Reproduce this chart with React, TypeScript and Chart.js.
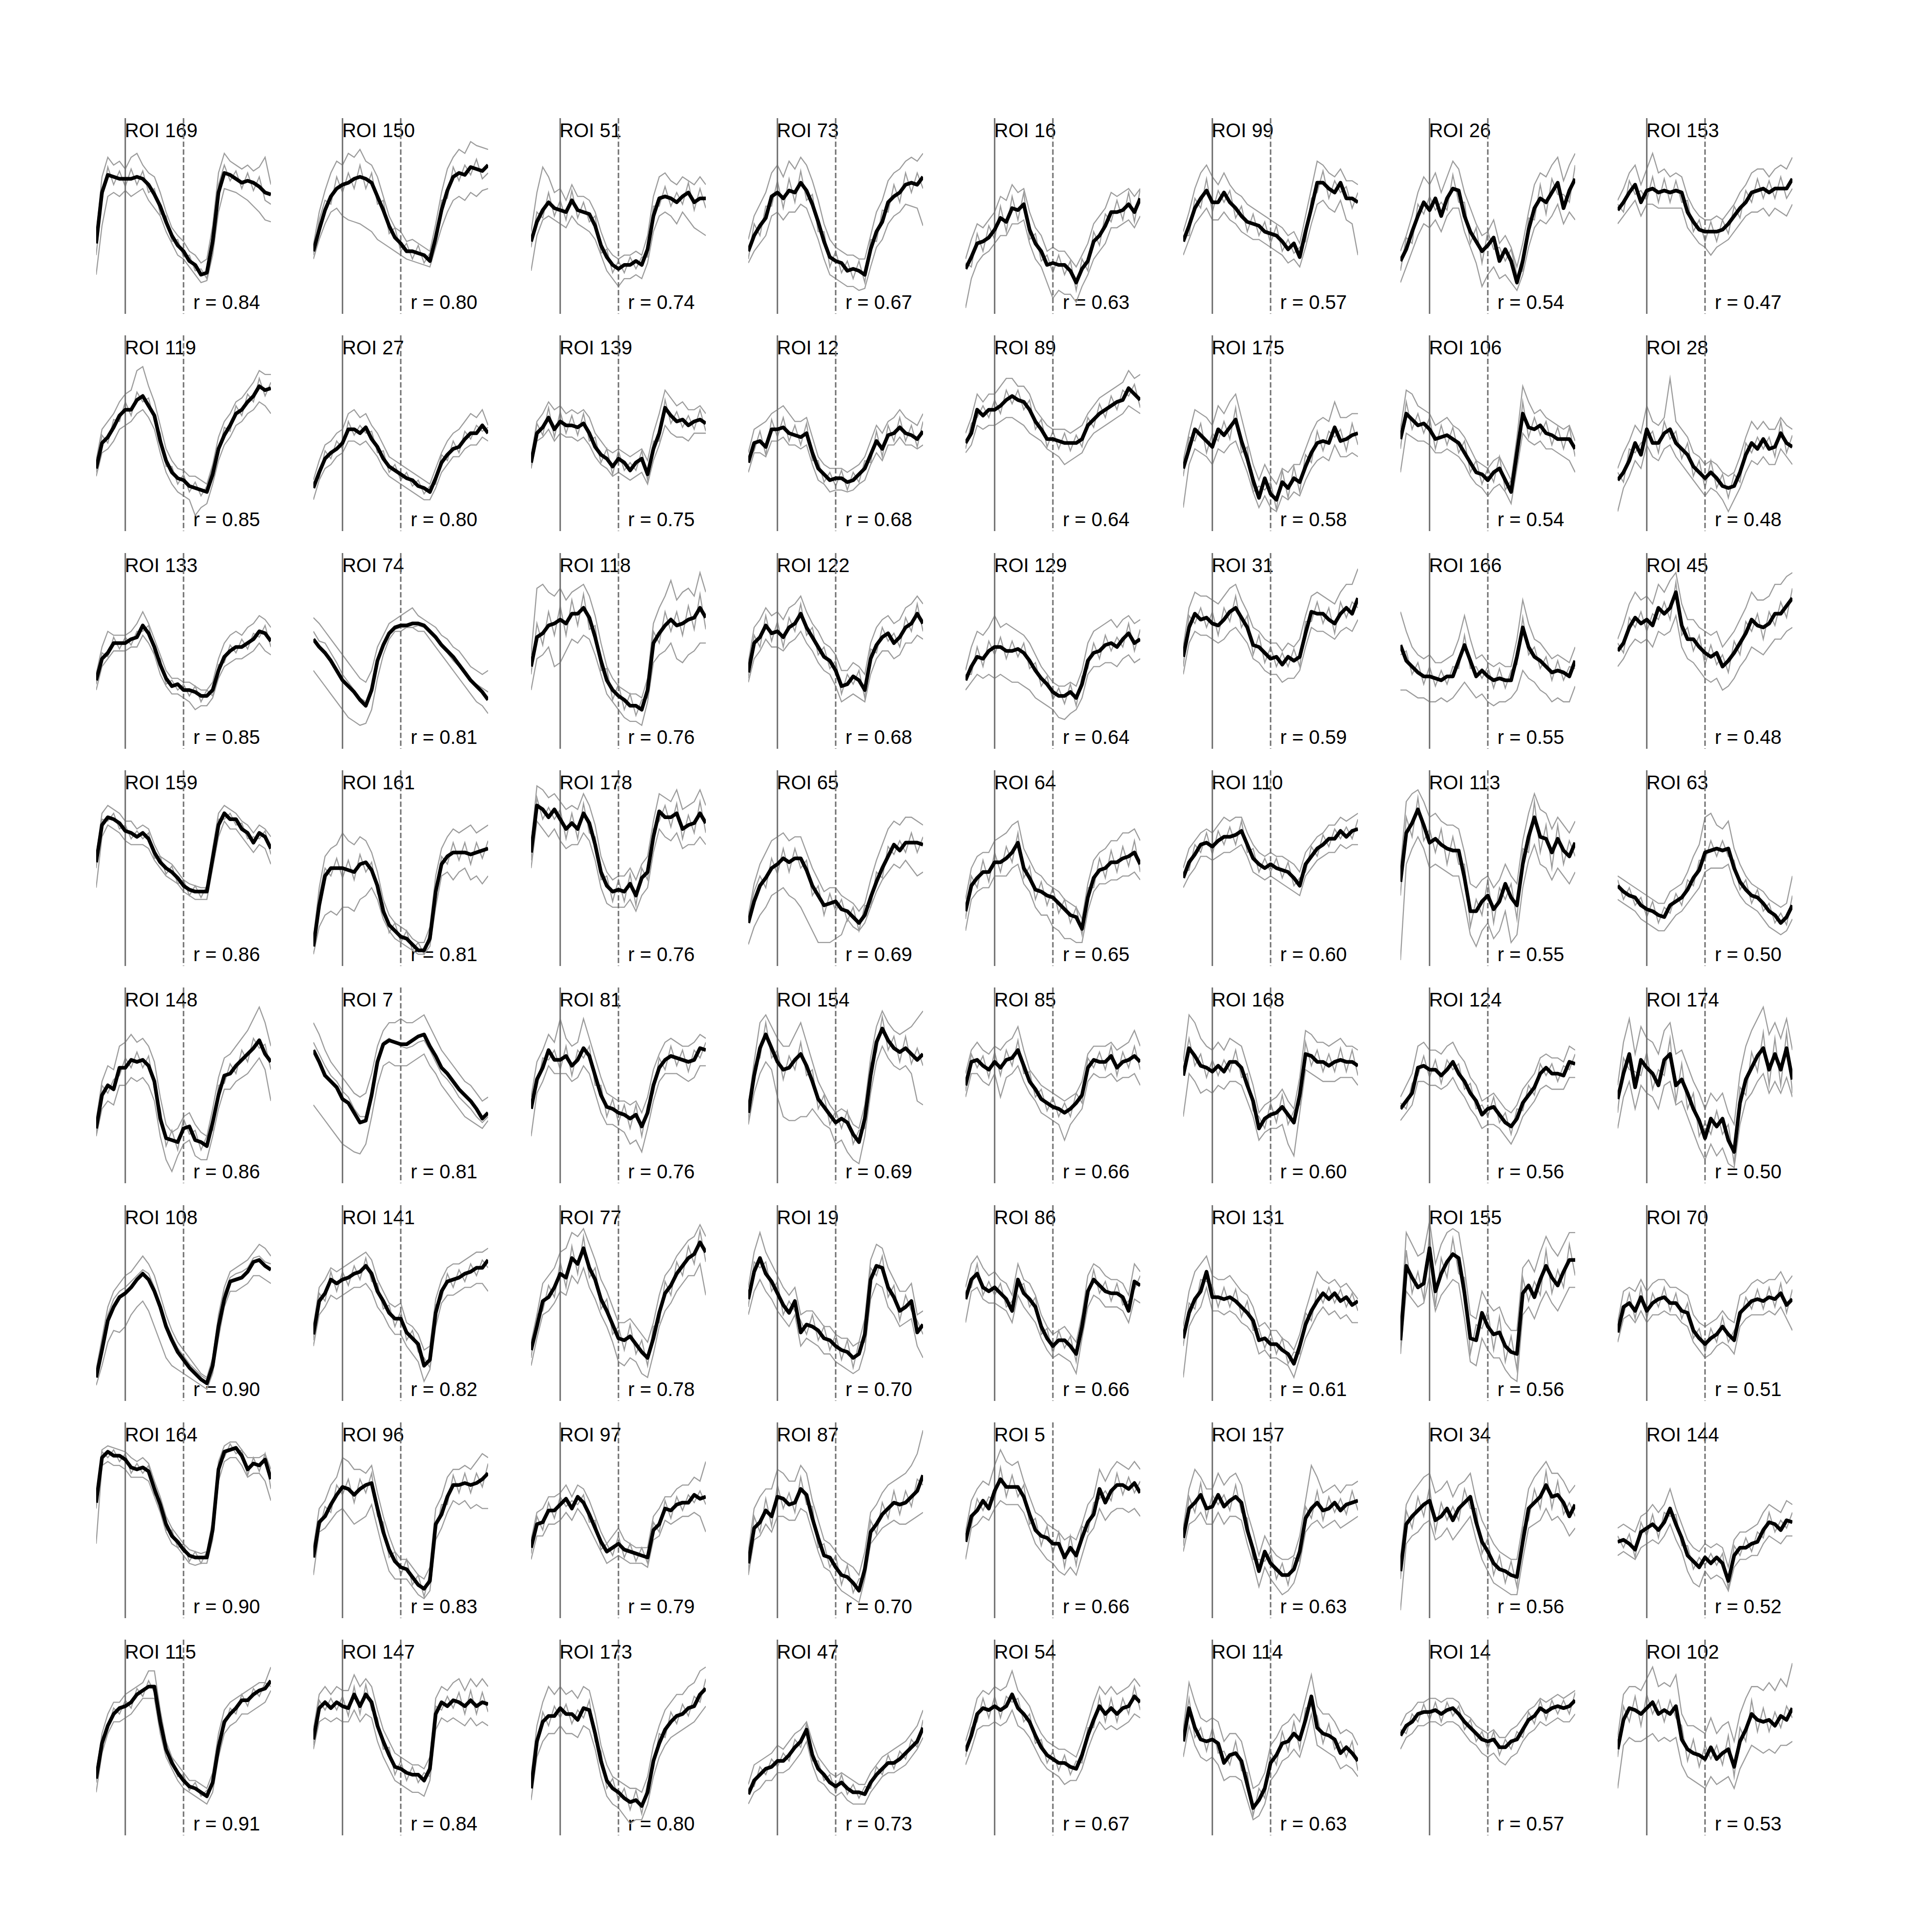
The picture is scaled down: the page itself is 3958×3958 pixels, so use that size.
import React, { useEffect, useRef } from "react";
import { Chart, registerables } from "chart.js";

Chart.register(...registerables);

// time axis (s), stimulus onset at 0, offset at 2
const TIME = [-1, -0.8, -0.6, -0.4, -0.2, 0, 0.2, 0.4, 0.6, 0.8, 1, 1.2, 1.4, 1.6, 1.8, 2, 2.2, 2.4, 2.6, 2.8, 3, 3.2, 3.4, 3.6, 3.8, 4, 4.2, 4.4, 4.6, 4.8, 5];
const STIM_ON = 0;
const STIM_OFF = 2;

// ---- row 1 ----
const roi169Mean = [36,62,71,70,69,69,69,70,69,66,61,55,47,40,35,32,27,25,20,21,37,62,72,71,69,67,68,67,65,62,61];
const roi169Hi = [40,70,80,76,78,74,80,82,76,72,70,62,52,44,40,37,32,30,26,28,45,72,82,78,76,74,76,73,75,80,66];
const roi169Lo = [20,45,60,62,60,63,60,62,64,58,54,50,42,36,30,28,24,20,16,17,30,52,64,63,62,60,58,55,52,48,47];
const roi169Mid = [30,58,75,66,73,65,74,66,73,62,64,51,50,37,38,29,30,22,23,18,42,66,76,68,73,64,72,63,70,58,56];
const roi150Mean = [32,43,53,60,64,66,67,69,70,69,67,60,53,45,39,36,32,32,31,30,27,39,53,63,70,72,71,75,74,73,76];
const roi150Hi = [35,52,63,72,78,76,82,80,84,78,76,70,60,50,44,42,37,38,36,34,32,46,62,74,80,84,82,88,86,85,84];
const roi150Lo = [28,38,46,52,54,50,48,47,46,44,42,38,36,34,32,30,28,27,26,25,24,34,44,52,58,60,58,62,60,63,64];
const roi150Mid = [30,48,58,56,70,62,72,64,76,64,72,56,58,41,44,32,36,28,35,26,31,35,58,59,75,68,76,71,79,69,72];
const roi51Mean = [37,47,53,57,54,53,52,58,53,52,51,45,35,29,25,23,25,25,27,25,33,50,59,60,59,57,60,62,57,59,59];
const roi51Hi = [42,62,75,70,62,64,58,66,60,60,58,52,42,34,30,28,30,30,32,30,40,60,70,72,68,66,70,68,66,70,66];
const roi51Lo = [22,40,48,50,48,46,44,50,46,44,42,38,30,22,18,14,18,18,20,18,26,42,50,52,50,46,52,48,44,42,40];
const roi51Mid = [34,52,49,62,50,58,48,63,49,57,47,50,31,33,21,27,21,29,23,29,29,55,55,65,55,62,56,67,53,64,54];
const roi73Mean = [32,40,45,49,60,62,59,63,62,67,63,56,47,37,29,27,26,22,23,22,20,33,42,47,57,60,62,66,67,66,70];
const roi73Hi = [38,50,56,62,72,76,70,78,74,80,76,68,58,46,38,34,32,30,30,28,28,40,52,58,68,72,74,78,80,78,82];
const roi73Lo = [26,32,36,40,50,52,48,52,52,56,54,46,38,28,20,18,16,14,14,12,13,24,34,38,46,50,52,56,55,54,45];
const roi73Mid = [28,46,40,55,55,68,54,69,57,73,58,61,42,42,24,32,21,27,18,27,16,38,37,53,52,66,57,72,62,72,64];
const roi16Mean = [23,29,36,37,39,43,49,47,54,53,56,43,36,32,25,26,25,25,22,16,23,27,37,40,45,52,52,53,56,52,59];
const roi16Hi = [28,38,46,44,48,52,60,58,66,62,64,52,44,40,32,34,32,32,28,24,30,36,46,50,54,62,60,62,64,60,64];
const roi16Lo = [3,18,26,30,32,36,40,40,46,46,48,36,28,24,16,8,12,10,10,6,14,20,28,32,36,44,44,46,48,44,50];
const roi16Mid = [26,24,41,32,45,38,55,42,60,48,62,38,41,27,30,21,30,20,27,12,28,22,42,35,51,47,58,48,62,47,64];
const roi99Mean = [37,45,54,59,63,57,57,62,57,54,50,47,46,45,42,41,40,37,33,36,29,42,54,67,67,64,62,67,59,59,57];
const roi99Hi = [42,52,64,72,76,70,66,72,66,62,60,56,54,52,50,48,46,44,40,42,36,50,64,78,76,72,70,74,68,68,66];
const roi99Lo = [30,38,46,50,54,48,48,52,48,46,42,40,38,38,36,34,32,30,26,28,24,34,46,56,58,54,52,58,48,46,30];
const roi99Mid = [40,40,59,54,69,52,63,57,63,49,55,42,51,40,47,36,45,32,38,31,34,37,59,62,73,59,68,62,65,54,62];
const roi26Mean = [27,33,42,50,57,53,59,50,59,64,63,50,42,37,32,35,39,27,33,27,16,27,43,54,59,57,62,67,54,63,69];
const roi26Hi = [32,40,50,62,70,66,72,62,70,78,74,62,54,46,40,42,48,36,40,34,24,36,52,66,72,70,76,80,68,76,82];
const roi26Lo = [16,24,32,40,46,44,48,42,50,54,54,42,34,26,14,20,24,18,20,16,12,20,34,44,48,46,50,56,46,52,48];
const roi26Mid = [22,39,36,56,51,60,53,57,53,71,57,57,36,44,26,42,33,34,27,33,20,22,49,48,66,51,69,61,61,57,76];
const roi153Mean = [53,57,62,66,57,63,64,62,63,62,63,62,52,47,43,42,42,42,43,46,50,54,57,62,63,64,62,64,64,64,69];
const roi153Hi = [58,64,72,76,66,74,82,72,74,70,72,70,60,54,50,48,48,50,48,52,56,62,66,72,74,74,70,74,76,74,80];
const roi153Lo = [46,50,54,58,50,56,56,54,54,54,54,54,44,40,36,34,30,34,36,38,42,46,50,52,52,54,50,54,52,50,56];
const roi153Mid = [56,52,68,61,63,58,70,57,69,57,68,57,58,42,48,37,47,37,48,41,55,49,63,57,69,59,68,59,70,59,64];

// ---- row 2 ----
const roi119Mean = [32,45,48,53,59,62,62,67,69,64,59,46,36,30,27,26,23,22,21,20,29,42,49,54,60,62,66,69,74,72,73];
const roi119Hi = [36,52,56,60,66,70,72,82,84,74,66,54,42,36,32,31,28,28,26,24,34,48,56,60,66,68,72,76,82,80,80];
const roi119Lo = [28,40,42,46,52,54,56,60,62,58,52,40,30,24,20,18,16,8,12,14,24,36,44,48,54,56,60,62,66,64,60];
const roi119Mid = [30,49,45,57,56,66,59,71,66,68,56,50,33,33,24,29,20,25,18,23,33,39,53,51,64,59,70,66,78,69,76];
const roi27Mean = [22,30,37,40,42,45,52,52,50,53,47,43,37,33,31,29,27,26,23,22,20,27,35,39,42,43,47,50,50,54,50];
const roi27Hi = [26,36,44,46,50,52,60,62,58,60,54,50,44,38,36,34,32,30,28,26,24,32,40,46,50,52,56,60,58,62,54];
const roi27Lo = [16,26,32,34,38,40,46,46,44,46,42,38,32,28,26,24,22,20,18,16,16,22,30,34,38,38,42,44,44,48,46];
const roi27Mid = [25,27,41,37,46,42,56,49,54,50,51,40,41,30,34,26,30,23,26,19,23,24,39,36,46,40,51,47,54,51,53];
const roi139Mean = [35,50,53,58,52,56,54,54,53,55,50,43,39,37,33,37,35,31,35,37,29,42,50,63,59,56,57,54,56,57,55];
const roi139Hi = [38,56,60,66,62,64,60,62,60,62,58,50,46,42,40,42,40,38,40,42,36,50,60,72,68,64,66,62,62,64,60];
const roi139Lo = [32,46,48,52,46,50,48,48,46,48,44,38,34,32,28,30,28,26,28,30,24,36,44,54,50,48,48,46,50,50,50];
const roi139Mid = [32,55,49,63,48,61,50,59,49,60,46,48,35,42,29,41,31,35,31,41,26,46,46,67,55,61,53,59,52,62,51];
const roi12Mean = [35,45,46,43,52,52,53,50,49,48,50,40,32,29,26,27,27,25,26,29,32,39,46,42,49,50,53,50,49,47,51];
const roi12Hi = [40,52,54,56,60,62,64,60,56,56,58,48,38,34,32,32,32,30,32,34,38,46,54,50,56,58,62,58,56,54,60];
const roi12Lo = [30,40,40,38,46,46,48,44,44,42,44,34,26,24,20,21,21,20,21,24,26,34,40,36,44,44,48,44,44,42,44];
const roi12Mid = [38,41,51,39,57,48,58,46,54,44,55,36,36,25,30,23,31,21,30,25,36,35,51,38,54,46,58,46,54,43,56];
const roi89Mean = [45,50,62,59,62,62,64,67,69,67,66,62,56,52,47,47,46,45,45,45,47,54,57,60,62,64,66,67,73,70,67];
const roi89Hi = [50,58,70,66,70,70,74,78,78,74,74,70,62,58,54,52,52,52,50,52,54,60,64,68,70,72,74,76,82,78,80];
const roi89Lo = [40,44,54,52,54,54,56,58,58,56,54,50,48,46,42,40,38,34,36,38,40,46,50,52,54,56,58,60,64,62,60];
const roi89Mid = [42,55,58,64,58,67,60,72,65,72,62,67,52,57,43,51,42,50,41,49,43,58,53,65,58,69,62,72,69,75,63];
const roi175Mean = [32,42,52,49,46,43,52,49,53,57,46,37,26,17,27,19,16,25,22,27,25,33,40,45,46,45,53,46,47,49,50];
const roi175Hi = [36,50,62,60,58,54,64,60,66,70,58,46,34,26,34,28,24,32,30,34,34,42,50,56,58,56,66,58,58,60,60];
const roi175Lo = [12,34,42,40,38,34,42,40,44,46,38,30,20,12,18,12,10,18,16,20,18,26,32,36,38,36,44,38,38,40,38];
const roi175Mid = [28,48,46,55,40,50,46,56,47,63,40,43,20,23,21,25,11,31,17,33,20,39,35,51,41,51,48,52,41,55,44];
const roi106Mean = [47,60,57,54,55,52,47,48,49,47,45,40,35,30,29,26,30,32,26,20,40,60,53,52,54,50,49,47,47,47,42];
const roi106Hi = [52,72,70,64,62,60,54,56,58,54,52,48,42,36,34,32,36,38,32,26,48,74,66,60,62,58,56,54,52,54,46];
const roi106Lo = [30,50,48,46,46,44,40,40,42,40,38,34,28,24,22,18,22,24,20,14,32,50,46,44,46,42,42,40,38,36,30];
const roi106Mid = [42,66,52,60,50,58,42,54,44,53,40,46,30,36,24,32,25,38,21,26,35,66,48,58,49,56,44,53,42,53,38];
const roi28Mean = [26,30,36,45,39,52,45,45,50,52,45,42,39,33,30,27,30,27,23,22,23,30,39,45,42,47,42,43,50,45,43];
const roi28Hi = [32,40,46,54,50,64,56,54,58,78,56,52,48,40,38,34,36,34,30,28,30,38,48,56,52,56,52,52,58,54,52];
const roi28Lo = [10,22,28,36,32,44,38,36,42,44,38,34,30,26,22,18,22,20,16,10,16,22,30,36,34,38,34,34,42,38,34];
const roi28Mid = [30,25,42,40,45,47,51,40,56,47,51,37,45,28,36,22,36,22,29,17,29,25,45,40,48,42,48,38,56,40,49];

// ---- row 3 ----
const roi133Mean = [35,46,49,54,54,54,56,57,63,59,52,43,36,32,33,30,30,29,27,27,30,40,47,50,52,52,54,56,60,59,55];
const roi133Hi = [38,52,60,58,58,58,60,64,70,64,56,48,40,36,36,34,34,32,30,30,34,46,54,58,60,58,62,64,68,66,62];
const roi133Lo = [30,42,46,50,50,50,52,52,58,54,48,38,32,28,28,26,24,20,22,22,26,36,42,44,46,46,48,50,54,50,48];
const roi133Mid = [33,49,47,57,51,57,53,60,60,63,49,46,33,35,30,33,27,32,24,30,27,43,44,53,49,56,51,59,57,63,52];
const roi74Mean = [56,52,49,45,40,35,32,29,25,22,30,45,53,59,62,63,63,64,64,63,60,57,53,50,47,43,39,35,32,29,25];
const roi74Hi = [67,64,60,56,52,48,44,40,36,34,40,52,58,64,66,68,70,72,68,66,64,62,58,56,52,50,46,42,40,38,40];
const roi74Lo = [40,36,32,28,24,20,16,14,12,13,20,36,48,56,60,60,62,62,60,60,56,52,48,44,40,36,32,28,24,22,18];
const roi74Mid = [60,55,54,49,44,38,34,30,26,24,32,44,52,58,61,62,62,62,63,62,59,56,52,49,45,42,38,35,33,31,29];
const roi118Mean = [42,57,59,63,64,66,64,69,69,72,67,57,45,35,30,27,25,22,22,20,30,54,59,63,66,63,64,66,67,72,67];
const roi118Hi = [48,82,84,80,78,82,76,80,82,84,78,68,54,42,36,32,30,28,28,26,36,64,72,78,86,76,80,82,78,90,80];
const roi118Lo = [30,46,48,52,42,44,50,56,54,58,56,48,38,28,24,20,16,14,14,12,24,44,48,50,54,46,44,48,50,54,54];
const roi118Mid = [38,64,53,70,58,73,58,76,63,79,61,63,40,41,25,33,20,28,17,25,26,60,54,70,60,70,58,73,61,79,61];
const roi122Mean = [39,54,57,63,59,60,57,62,64,69,62,57,52,47,45,40,32,33,37,35,30,46,53,57,59,54,57,62,64,69,64];
const roi122Hi = [44,62,66,72,68,70,66,72,74,78,70,64,60,54,52,48,40,40,44,42,38,54,62,66,68,64,66,72,74,78,74];
const roi122Lo = [34,46,50,56,52,52,50,54,56,60,54,50,44,40,38,32,24,26,28,26,24,38,46,50,50,46,48,54,54,58,56];
const roi122Mid = [36,58,52,68,55,65,52,67,60,74,58,62,48,52,41,45,28,38,33,40,26,51,49,62,55,59,52,67,60,74,60];
const roi129Mean = [35,42,47,46,50,52,52,50,50,51,49,45,40,36,33,29,27,27,29,26,33,45,49,50,53,54,52,56,59,54,56];
const roi129Hi = [40,52,60,58,62,68,62,64,62,60,58,54,48,42,38,34,32,32,34,32,40,54,60,62,64,66,62,66,68,64,66];
const roi129Lo = [30,34,38,36,38,36,38,36,34,34,32,30,26,24,22,20,16,15,18,20,26,38,42,42,44,44,42,46,48,44,46];
const roi129Mid = [38,38,52,42,55,48,57,46,55,47,54,41,44,32,37,25,31,23,33,22,37,41,54,46,58,50,57,52,64,50,61];
const roi31Mean = [47,62,69,66,67,64,63,66,70,72,67,62,53,52,49,46,47,43,47,45,47,59,70,69,69,66,64,69,72,69,77];
const roi31Hi = [52,72,80,78,78,76,74,78,82,84,76,70,62,60,56,54,54,50,54,52,56,68,78,80,78,76,74,80,84,84,92];
const roi31Lo = [38,54,60,58,58,56,54,56,60,62,58,54,46,44,40,38,38,34,36,36,40,52,62,60,60,58,56,60,62,60,66];
const roi31Mid = [42,68,64,72,62,70,58,72,65,78,62,68,48,58,44,52,42,49,42,51,42,65,65,75,64,72,59,75,67,75,72];
const roi166Mean = [53,45,42,39,37,37,36,35,37,37,45,53,45,37,40,37,35,36,35,35,47,62,52,47,45,42,39,40,39,37,45];
const roi166Hi = [70,60,52,48,46,48,44,44,46,48,56,68,56,46,48,44,42,44,42,42,56,76,64,56,54,50,46,48,46,44,52];
const roi166Lo = [30,30,28,26,26,24,24,26,24,26,30,34,30,26,28,24,22,24,24,26,30,40,36,34,30,28,24,26,24,24,32];
const roi166Mid = [48,50,38,44,33,42,32,40,33,42,41,58,41,42,36,42,31,41,31,40,43,67,48,52,41,47,35,45,35,42,41];
const roi45Mean = [50,54,62,67,64,66,63,72,69,72,80,63,56,56,52,49,47,49,42,45,49,54,59,66,63,62,64,69,69,73,77];
const roi45Hi = [56,64,74,80,76,78,74,84,80,86,90,74,66,66,62,60,58,60,52,56,60,66,72,80,76,76,78,84,84,88,90];
const roi45Lo = [42,46,52,56,54,56,52,60,58,60,68,52,46,44,40,36,34,36,30,32,36,42,46,52,50,48,52,56,56,60,62];
const roi45Mid = [54,49,67,62,70,60,69,66,75,66,85,58,62,50,58,43,53,43,48,39,55,48,65,60,69,56,70,63,75,67,82];

// ---- row 4 ----
const roi159Mean = [53,72,76,75,73,69,68,66,68,65,58,53,50,48,45,41,39,38,38,38,55,72,78,75,75,70,68,63,68,66,60];
const roi159Hi = [56,78,82,80,78,74,74,70,72,70,62,56,54,52,48,44,42,41,40,40,60,78,82,80,78,74,72,68,72,70,66];
const roi159Lo = [40,66,72,70,68,64,62,62,62,60,54,50,46,44,42,38,36,34,34,34,50,66,74,70,70,66,62,58,62,60,52];
const roi159Mid = [50,75,74,78,70,72,65,69,65,68,55,56,47,51,42,44,36,41,35,41,52,75,75,78,72,73,65,66,65,69,57];
const roi161Mean = [10,31,46,50,50,50,49,48,52,53,49,41,28,21,18,15,14,11,8,8,14,38,52,56,58,58,58,57,58,59,60];
const roi161Hi = [14,40,56,60,62,68,64,62,66,64,58,48,34,26,22,20,18,14,12,12,20,46,60,66,70,68,70,72,68,70,72];
const roi161Lo = [6,20,26,28,26,30,30,28,34,36,40,34,24,18,14,12,10,8,6,6,10,30,46,48,44,48,50,44,46,42,46];
const roi161Mid = [12,36,50,46,55,45,54,44,57,48,53,37,32,17,22,12,18,8,12,6,18,34,56,52,63,54,63,52,63,55,64];
const roi178Mean = [58,82,80,76,80,75,70,73,70,78,73,62,48,41,38,39,38,42,36,45,48,66,79,76,76,78,70,72,73,78,73];
const roi178Hi = [62,92,90,86,88,84,80,82,80,88,82,72,56,48,44,46,46,50,44,52,56,74,88,86,84,90,80,82,84,90,82];
const roi178Lo = [50,74,70,66,70,64,60,62,62,68,64,54,40,32,30,30,30,34,28,36,40,58,70,66,64,68,60,62,62,66,62];
const roi178Mid = [54,86,75,81,75,80,65,78,65,83,68,66,44,46,33,44,33,47,31,50,44,70,74,82,71,83,65,77,68,84,68];
const roi65Mean = [22,33,41,45,50,52,55,53,55,55,49,41,36,31,32,33,29,28,25,22,26,35,43,50,56,62,59,63,63,63,62];
const roi65Hi = [26,42,52,58,64,66,68,64,66,66,58,50,44,38,40,40,36,34,32,28,32,44,54,62,70,74,72,76,76,74,72];
const roi65Lo = [11,20,26,30,36,38,40,36,34,30,24,18,12,12,12,14,16,24,20,18,22,30,38,44,48,52,50,54,50,46,48];
const roi65Mid = [26,38,46,40,55,47,60,48,60,50,54,36,41,26,37,28,34,23,30,18,31,30,48,45,61,57,64,58,68,58,66];
const roi64Mean = [28,41,45,48,48,53,53,55,58,63,50,45,39,38,36,35,32,29,26,25,19,35,45,49,50,53,53,55,56,58,52];
const roi64Hi = [34,50,56,58,58,64,66,68,72,74,60,54,48,46,42,40,38,34,32,30,24,42,54,58,60,64,64,68,68,70,64];
const roi64Lo = [18,34,38,40,40,46,46,46,50,52,42,38,30,26,26,20,18,14,14,12,12,28,38,42,42,44,44,46,46,48,44];
const roi64Mid = [24,46,40,54,43,58,48,61,53,68,45,51,34,43,31,40,27,34,22,30,16,40,40,55,45,59,48,61,51,64,48];
const roi110Mean = [45,53,57,62,63,61,64,66,66,67,69,62,55,52,50,52,50,49,48,45,41,52,56,60,62,65,65,69,66,69,70];
const roi110Hi = [50,60,64,68,70,68,72,76,74,76,76,68,62,58,56,58,56,56,54,52,48,58,62,66,68,72,72,76,74,76,78];
const roi110Lo = [40,46,50,56,56,54,56,58,58,60,62,56,48,46,44,46,44,42,40,38,36,46,50,54,56,58,58,62,60,62,62];
const roi110Mid = [48,49,62,58,68,57,69,62,71,62,74,58,60,48,55,48,55,45,53,41,45,48,61,56,67,61,70,65,71,65,75];
const roi113Mean = [43,68,73,80,72,63,65,62,60,59,59,45,28,28,33,36,29,33,42,35,31,52,66,76,66,65,58,65,59,56,63];
const roi113Hi = [50,84,88,90,84,76,78,74,72,72,70,58,42,40,44,46,40,44,52,46,42,64,78,88,80,78,70,76,72,68,74];
const roi113Lo = [3,52,60,66,60,50,52,50,48,46,46,32,16,10,18,22,14,18,28,12,16,40,54,62,52,50,44,50,46,42,48];
const roi113Mid = [36,76,66,86,64,70,58,70,52,66,52,52,20,34,26,44,22,40,34,42,24,60,58,84,58,72,50,72,52,64,56];
const roi63Mean = [41,38,36,35,31,29,28,26,25,31,33,35,39,45,49,58,59,60,59,60,50,43,39,36,35,32,28,26,22,25,31];
const roi63Hi = [46,44,42,40,38,36,34,32,32,38,40,42,48,56,62,76,78,72,70,74,60,52,46,42,40,38,34,32,30,32,46];
const roi63Lo = [34,32,30,28,24,22,20,18,18,22,26,28,32,36,40,48,50,50,50,52,42,36,32,30,28,24,20,18,16,18,24];
const roi63Mid = [44,34,40,31,35,25,33,22,30,27,37,31,44,41,54,54,64,56,64,56,54,39,44,32,39,28,32,22,27,21,36];

// ---- row 5 ----
const roi148Mean = [28,45,50,48,59,59,63,62,63,60,52,33,23,22,21,28,29,22,21,19,31,45,55,56,60,63,66,69,73,66,62];
const roi148Hi = [32,52,60,58,70,72,76,72,74,70,62,44,30,26,28,34,36,30,26,24,38,54,64,66,70,74,78,84,90,82,70];
const roi148Lo = [24,38,42,40,50,50,54,52,54,50,42,24,12,6,14,20,22,14,12,12,24,38,48,48,52,54,56,60,64,58,42];
const roi148Mid = [25,50,46,53,55,64,59,67,59,65,48,38,19,27,17,33,25,27,17,24,27,50,51,61,56,68,62,74,69,71,58];
const roi7Mean = [68,62,55,52,49,43,41,36,31,32,45,62,71,73,72,71,71,73,75,76,70,65,59,56,52,48,45,42,38,33,36];
const roi7Hi = [82,76,68,62,58,54,50,46,44,46,56,70,78,82,82,84,82,82,84,86,80,74,68,64,60,56,52,50,46,42,44];
const roi7Lo = [40,36,32,28,24,20,18,16,15,20,34,50,60,62,60,60,60,62,64,66,60,56,50,46,42,38,34,32,30,28,32];
const roi7Mid = [72,66,60,55,52,47,44,38,34,34,48,64,72,74,72,70,69,70,72,73,68,62,56,53,49,44,41,38,34,31,34];
const roi81Mean = [38,53,59,68,63,63,65,60,63,69,65,55,45,39,38,36,35,33,35,29,36,50,59,63,65,64,63,62,63,69,68];
const roi81Hi = [44,62,68,76,72,84,74,70,72,84,74,64,54,46,44,42,42,40,42,36,44,58,66,72,74,72,70,70,72,76,74];
const roi81Lo = [24,46,52,60,56,56,56,52,54,60,56,46,36,30,30,28,26,20,22,16,28,42,52,56,56,56,54,52,54,60,60];
const roi81Mid = [42,49,64,63,68,58,70,55,68,64,70,50,50,34,43,31,40,28,40,24,40,46,64,58,70,60,68,57,68,64,72];
const roi154Mean = [36,55,69,76,69,62,58,59,63,66,60,52,43,39,35,31,33,31,25,21,33,55,72,79,73,69,67,69,66,63,66];
const roi154Hi = [40,62,82,86,80,74,70,70,76,82,72,62,52,46,40,36,38,36,30,28,40,64,80,88,82,78,76,78,80,84,88];
const roi154Lo = [30,46,56,62,58,44,34,32,32,34,34,38,34,30,28,20,22,16,12,10,24,46,62,70,64,60,58,60,56,42,40];
const roi154Mid = [32,60,64,82,64,68,53,65,58,72,55,58,38,45,30,37,28,37,20,27,28,61,67,85,68,75,62,75,61,69,60];
const roi85Mean = [50,62,63,60,58,62,59,63,64,68,60,52,48,43,41,39,38,36,38,41,45,59,63,62,62,65,59,62,63,65,62];
const roi85Hi = [56,68,72,68,66,70,68,72,74,80,68,58,54,50,48,46,44,42,44,46,52,66,70,70,70,72,68,70,72,78,70];
const roi85Lo = [44,56,56,52,50,56,44,54,56,60,52,46,42,36,34,32,30,22,30,34,38,52,56,54,54,56,52,54,54,56,50];
const roi85Mid = [47,66,59,65,54,67,55,68,60,73,56,57,44,48,37,44,34,41,34,46,41,64,59,67,58,70,55,67,59,70,58];
const roi168Mean = [55,69,65,60,59,57,60,57,62,62,59,50,42,28,33,35,36,39,35,31,45,66,65,62,62,60,62,63,62,62,60];
const roi168Hi = [62,86,82,74,70,68,72,68,74,72,70,60,50,36,40,42,44,48,42,38,54,78,76,72,72,70,72,74,70,70,68];
const roi168Lo = [34,56,52,46,48,46,50,48,52,52,50,42,34,22,26,28,28,30,20,14,36,58,56,54,52,52,52,54,54,54,50];
const roi168Mid = [58,74,60,66,54,63,55,63,57,68,54,56,37,34,28,41,31,45,30,37,40,72,60,68,57,66,57,69,57,68,55];
const roi124Mean = [38,42,46,59,60,58,58,55,58,62,56,52,46,42,35,38,39,35,31,29,33,41,45,49,56,59,56,56,55,62,61];
const roi124Hi = [44,50,56,70,72,68,68,66,70,72,66,62,54,50,42,44,46,42,38,36,40,48,52,56,64,66,64,64,62,70,68];
const roi124Lo = [32,36,40,52,52,50,50,48,50,54,48,44,38,34,28,30,30,28,24,20,26,34,38,42,48,50,48,48,48,54,54];
const roi124Mid = [41,38,51,55,65,54,63,51,63,58,61,48,51,38,40,34,44,31,36,25,38,37,50,45,61,55,61,52,60,58,66];
const roi174Mean = [43,56,66,49,63,59,56,50,63,66,50,53,46,38,32,23,33,29,33,22,16,41,53,59,65,69,58,66,58,69,53];
const roi174Hi = [50,72,84,66,80,74,72,66,78,82,66,68,60,52,46,38,46,42,46,36,30,56,70,78,84,90,76,82,74,84,68];
const roi174Lo = [28,44,52,38,50,46,44,38,50,52,40,42,34,26,18,12,20,14,18,10,8,30,42,46,52,56,46,52,46,54,44];
const roi174Mid = [36,64,58,57,55,67,48,58,55,74,42,61,38,46,24,31,25,37,25,30,10,49,45,67,57,77,50,74,50,77,46];

// ---- row 6 ----
const roi108Mean = [12,26,41,48,53,55,58,62,65,62,56,48,38,31,25,21,17,14,11,9,18,38,52,61,62,63,66,71,72,69,67];
const roi108Hi = [16,32,48,56,60,64,66,70,74,70,64,54,44,36,30,26,22,18,14,12,22,44,58,66,68,70,72,76,80,78,74];
const roi108Lo = [8,18,30,36,35,38,44,48,51,46,38,30,22,18,16,14,12,10,8,6,14,32,48,56,56,58,60,64,64,62,60];
const roi108Mid = [15,30,44,52,56,58,61,64,67,65,58,50,40,33,27,23,19,16,13,11,21,42,55,63,65,66,68,73,74,71,70];
const roi141Mean = [34,51,55,62,60,62,63,65,66,69,65,56,51,45,42,42,35,32,29,18,21,45,56,61,62,63,65,66,68,68,72];
const roi141Hi = [38,58,62,68,66,68,70,72,74,76,72,62,56,50,48,50,40,38,34,26,28,52,62,68,70,70,72,74,76,76,78];
const roi141Lo = [28,44,48,54,52,54,56,58,58,60,56,48,44,38,34,34,28,24,20,10,16,38,50,54,54,56,58,58,60,60,56];
const roi141Mid = [31,55,51,66,56,66,59,69,62,73,61,60,47,49,38,46,31,36,25,22,17,49,52,65,58,67,61,70,64,72,68];
const roi77Mean = [26,38,51,53,58,65,63,73,70,78,68,62,52,46,39,32,31,33,29,25,22,32,45,55,59,65,69,73,75,81,76];
const roi77Hi = [30,44,60,64,68,76,78,86,84,88,80,72,62,56,48,40,40,42,38,34,30,40,54,64,68,74,78,82,84,90,84];
const roi77Lo = [18,32,44,46,50,56,54,64,60,68,58,52,44,38,30,20,18,22,20,14,12,24,38,46,50,56,60,64,64,70,54];
const roi77Mid = [22,44,46,59,53,71,58,79,65,84,63,68,47,52,34,38,26,39,24,31,18,38,40,61,54,71,64,79,70,87,71];
const roi19Mean = [52,66,73,65,61,55,49,45,51,35,39,38,36,32,31,28,26,25,22,24,34,62,69,68,58,53,46,48,51,35,39];
const roi19Hi = [58,76,86,76,70,64,58,54,58,44,46,46,42,38,38,34,32,32,28,30,42,72,80,78,68,62,56,56,60,44,46];
const roi19Lo = [44,56,62,56,52,46,42,38,44,28,32,30,28,24,24,20,18,16,14,16,26,52,60,58,48,44,38,40,42,28,22];
const roi19Mid = [48,71,68,71,56,61,44,51,46,41,34,44,31,38,26,34,21,31,17,30,30,68,64,74,53,59,41,54,46,41,34];
const roi86Mean = [52,62,65,58,56,58,55,52,46,62,55,52,48,38,32,28,31,31,28,24,38,56,62,59,56,55,55,53,46,61,59];
const roi86Hi = [58,70,74,68,64,66,62,60,54,70,62,60,54,44,38,34,36,38,34,30,44,64,70,68,64,62,62,60,54,70,66];
const roi86Lo = [40,56,58,52,50,50,48,46,40,54,48,44,40,32,26,22,24,22,20,14,32,48,54,52,48,48,48,46,40,52,50];
const roi86Mid = [56,58,70,54,61,54,60,48,51,58,60,48,53,34,37,24,36,27,33,20,42,52,67,55,61,51,60,49,51,57,64];
const roi131Mean = [32,45,52,56,66,53,53,52,53,51,48,45,41,31,32,29,29,26,24,19,28,39,46,51,55,52,55,51,53,49,51];
const roi131Hi = [38,56,66,70,74,64,62,62,64,60,56,54,48,38,40,36,36,32,30,26,34,46,56,66,62,60,62,58,60,56,52];
const roi131Lo = [12,38,44,48,58,46,46,44,46,44,40,38,34,24,26,22,22,20,18,12,22,32,38,44,48,44,46,42,44,40,40];
const roi131Mid = [28,50,47,62,61,59,48,58,48,57,43,51,36,37,27,35,24,32,19,25,24,45,41,57,50,58,50,57,48,55,46];
const roi155Mean = [31,69,63,58,60,78,56,65,71,75,73,55,32,31,45,38,34,35,28,25,24,55,59,53,62,69,63,59,66,72,72];
const roi155Hi = [38,86,80,74,76,92,70,80,86,88,86,68,44,42,56,50,46,48,40,36,36,68,72,66,76,84,78,74,80,86,86];
const roi155Lo = [24,56,52,48,50,64,46,54,58,62,60,42,20,18,32,26,22,22,16,12,10,44,48,42,50,56,50,46,52,58,58];
const roi155Mid = [24,77,55,66,52,86,48,73,63,83,65,63,24,39,37,46,26,43,20,33,16,63,51,61,54,77,55,67,58,80,64];
const roi70Mean = [35,48,50,46,53,46,50,52,53,50,50,46,45,36,32,29,32,34,38,34,31,45,48,51,52,51,53,52,55,49,52];
const roi70Hi = [40,56,58,56,62,56,60,62,62,58,58,56,54,44,40,38,40,42,46,42,40,54,56,60,62,60,62,62,66,60,64];
const roi70Lo = [30,42,44,40,46,40,44,44,46,44,44,40,38,30,26,22,24,28,30,28,24,38,42,44,44,44,46,44,48,42,36];
const roi70Mid = [38,44,55,42,58,42,55,48,58,46,55,42,50,32,37,25,37,30,43,30,36,41,53,47,57,47,58,48,60,45,57];

// ---- row 7 ----
const roi164Mean = [59,82,85,83,83,81,77,76,77,75,66,58,48,42,39,35,32,31,31,31,45,76,85,86,87,83,76,79,78,81,71];
const roi164Hi = [62,86,88,87,86,85,82,80,82,79,70,62,52,46,42,38,35,34,33,34,50,80,88,90,90,86,82,82,82,84,76];
const roi164Lo = [38,78,80,78,78,76,72,72,72,70,62,54,44,38,36,32,28,27,28,28,40,70,80,82,82,78,72,74,74,70,60];
const roi164Mid = [56,85,82,86,80,84,74,79,74,78,63,61,45,45,36,38,29,34,28,34,42,79,82,89,84,86,73,82,75,84,66];
const roi96Mean = [31,49,52,58,63,67,66,63,66,68,69,56,44,35,29,26,25,21,17,15,19,48,53,62,68,68,69,68,69,71,74];
const roi96Hi = [36,56,60,68,72,82,80,76,76,74,78,64,52,42,34,30,30,26,22,20,26,56,62,72,76,76,78,76,80,84,82];
const roi96Lo = [22,44,46,50,54,56,52,48,50,52,58,46,34,24,20,20,20,16,12,10,14,40,46,54,60,58,60,56,58,56,56];
const roi96Mid = [34,45,57,54,68,63,71,59,71,64,74,52,49,31,34,22,30,17,22,11,23,44,58,58,73,64,74,64,74,67,79];
const roi97Mean = [36,48,49,55,55,58,61,56,62,59,53,46,39,34,36,38,35,34,33,32,31,45,48,56,55,58,59,59,63,61,62];
const roi97Hi = [40,54,56,62,62,64,68,62,68,66,60,52,44,38,42,46,40,38,36,36,36,52,56,62,62,66,68,68,72,70,80];
const roi97Lo = [30,42,42,48,48,50,54,50,56,52,46,40,34,28,30,32,30,28,28,28,26,40,42,50,48,50,52,52,54,52,44];
const roi97Mid = [33,52,45,59,51,62,57,60,58,63,49,50,35,38,32,42,31,38,29,36,28,49,44,60,51,62,55,63,59,65,58];
const roi87Mean = [28,46,49,55,52,62,61,58,59,66,63,51,41,32,31,26,22,21,18,14,25,44,48,53,56,59,58,59,62,65,73];
const roi87Hi = [34,56,62,66,66,76,74,70,70,78,74,60,50,40,38,34,30,28,26,22,34,54,58,64,68,70,72,74,78,84,96];
const roi87Lo = [22,40,42,48,44,52,52,50,50,56,54,44,34,26,24,18,14,12,10,8,20,38,42,46,48,50,48,48,50,52,54];
const roi87Mid = [24,52,44,61,47,68,56,64,54,72,58,57,36,38,26,32,17,27,13,20,21,50,43,59,51,65,53,65,57,71,68];
const roi5Mean = [39,52,55,60,56,65,71,67,67,67,62,53,45,42,41,38,38,31,36,32,41,49,53,66,59,65,68,68,66,69,64];
const roi5Hi = [44,60,66,70,68,78,86,80,78,80,70,62,54,52,48,46,44,40,42,40,48,58,62,76,70,76,80,78,76,80,76];
const roi5Lo = [30,46,48,52,50,56,60,58,58,58,54,46,38,34,30,28,24,22,26,22,32,42,46,56,50,54,56,56,54,56,52];
const roi5Mid = [43,47,61,55,62,60,77,62,73,62,68,48,51,37,47,33,44,26,42,27,47,44,59,61,65,60,74,63,72,64,70];
const roi157Mean = [41,56,59,63,56,57,63,57,60,62,59,45,35,24,34,28,25,22,22,25,34,51,56,59,55,56,59,55,58,59,60];
const roi157Hi = [46,66,76,72,66,66,74,68,72,74,68,54,44,32,42,36,32,30,30,32,42,60,78,72,64,66,68,64,68,68,70];
const roi157Lo = [34,48,50,54,48,48,54,48,52,52,50,38,28,16,26,20,16,12,14,18,28,44,48,50,46,48,50,46,48,50,52];
const roi157Mid = [37,62,54,69,51,63,58,63,55,68,54,51,30,30,29,34,20,28,17,31,29,57,51,65,50,62,54,61,53,65,55];
const roi34Mean = [24,48,52,55,58,60,50,52,56,50,56,59,62,49,39,34,28,25,24,22,21,39,56,59,62,68,62,63,59,52,58];
const roi34Hi = [30,58,64,68,72,74,64,66,70,62,68,70,74,60,50,44,38,34,32,30,30,48,66,72,76,80,74,74,70,64,68];
const roi34Lo = [4,38,42,44,48,50,40,42,46,40,44,48,52,40,30,24,18,16,14,12,12,30,46,48,50,56,50,52,48,42,46];
const roi34Mid = [20,55,46,62,52,67,44,59,50,57,50,66,56,56,33,41,22,32,18,29,16,46,50,66,56,75,56,70,53,59,52];
const roi144Mean = [39,40,38,35,44,46,48,45,49,56,48,41,32,29,26,31,28,31,28,19,32,36,36,38,39,45,49,48,45,50,49];
const roi144Hi = [46,48,46,44,52,54,58,54,58,66,56,48,40,36,34,38,36,38,36,26,40,44,44,46,48,54,58,56,54,60,58];
const roi144Lo = [32,34,32,30,36,38,40,38,42,48,40,34,24,18,16,24,20,22,20,14,26,30,30,32,32,38,42,40,38,42,42];
const roi144Mid = [42,36,43,31,49,42,53,41,54,52,53,37,37,25,31,27,33,27,33,15,37,32,41,34,44,41,54,44,50,46,54];

// ---- row 8 ----
const roi115Mean = [29,47,56,62,65,66,68,72,74,76,76,58,44,37,32,28,25,24,22,20,27,45,58,62,65,69,69,72,74,75,79];
const roi115Hi = [32,52,62,68,68,72,74,76,78,84,84,64,48,40,36,32,28,28,26,24,32,52,64,68,70,72,74,76,78,78,86];
const roi115Lo = [22,42,52,58,58,60,62,66,70,70,70,52,40,34,28,24,22,20,18,16,22,40,52,56,58,62,62,64,66,68,74];
const roi115Mid = [27,50,54,65,62,69,65,75,71,79,73,61,42,40,30,31,23,27,20,23,25,48,55,65,62,72,66,75,71,78,76];
const roi147Mean = [49,65,68,65,68,66,65,72,66,72,68,56,48,41,35,34,32,31,31,28,34,62,68,66,69,68,66,69,66,68,67];
const roi147Hi = [54,72,76,72,76,74,74,82,76,80,76,64,54,48,42,40,38,36,36,34,40,70,76,74,78,80,74,80,76,80,76];
const roi147Lo = [44,58,60,58,60,58,58,64,58,62,60,48,40,34,28,26,24,22,22,20,28,54,60,58,60,58,56,60,56,58,56];
const roi147Mid = [46,69,64,70,64,71,61,76,62,77,64,60,44,45,31,38,28,35,27,32,30,66,64,71,65,73,62,74,62,73,63];
const roi173Mean = [24,48,58,61,61,65,62,62,59,65,64,52,38,28,24,22,19,17,18,15,22,38,47,54,58,61,62,65,66,72,75];
const roi173Hi = [30,56,68,76,72,76,72,74,70,76,74,62,46,36,30,28,26,24,24,22,30,46,56,64,68,72,72,76,78,84,86];
const roi173Lo = [18,40,48,52,52,56,52,52,50,56,54,44,30,20,16,14,10,6,8,8,16,30,40,46,50,52,54,56,58,62,66];
const roi173Mid = [28,44,63,56,66,60,67,57,64,60,69,48,43,24,29,18,24,13,23,11,27,34,52,50,63,57,67,61,71,68,80];
const roi47Mean = [21,28,31,34,35,38,38,41,45,48,54,41,34,31,27,25,27,24,22,22,21,27,31,34,37,37,39,42,45,48,55];
const roi47Hi = [26,36,38,40,42,46,44,48,52,54,58,48,40,36,32,30,32,30,28,26,26,32,36,40,42,44,46,48,52,56,64];
const roi47Lo = [16,22,24,28,28,32,32,34,38,42,48,36,28,26,22,20,22,18,16,16,16,22,26,30,32,32,34,36,40,44,50];
const roi47Mid = [24,25,35,31,39,35,42,38,49,45,57,38,38,28,31,22,31,21,26,19,25,24,35,31,41,34,43,39,49,45,59];
const roi54Mean = [43,51,62,65,64,66,64,66,72,65,62,58,51,45,41,39,37,37,35,34,41,51,59,66,62,65,62,65,66,71,68];
const roi54Hi = [48,58,70,74,72,76,74,76,84,74,70,66,58,52,48,46,44,44,42,40,48,58,68,76,72,76,72,74,76,80,76];
const roi54Lo = [36,44,54,56,56,58,56,58,64,56,54,50,44,38,34,32,30,26,28,28,34,44,52,58,54,56,54,56,58,62,60];
const roi54Mid = [40,55,58,70,60,71,60,71,68,70,58,62,47,49,37,43,33,41,31,38,37,55,55,71,58,70,58,70,62,76,64];
const roi114Mean = [48,65,55,49,48,49,47,37,41,42,38,26,14,18,24,37,41,47,48,52,49,59,71,55,52,51,49,42,45,42,38];
const roi114Hi = [54,78,68,60,58,60,58,48,52,52,48,36,24,26,32,46,50,56,58,62,58,70,82,66,62,62,58,52,54,52,46];
const roi114Lo = [40,56,46,40,38,40,36,28,30,30,28,18,8,10,16,28,32,38,40,44,40,50,62,46,44,42,40,34,36,34,30];
const roi114Mid = [52,70,50,55,43,55,42,43,36,48,33,32,10,24,19,43,36,53,43,58,44,65,66,61,47,57,44,48,40,48,33];
const roi14Mean = [51,56,58,62,63,63,64,62,64,65,62,58,55,52,49,48,49,45,45,48,49,54,59,61,65,63,65,66,65,66,69];
const roi14Hi = [56,62,64,68,68,70,70,68,70,70,68,62,60,56,54,52,54,50,50,54,56,60,64,66,70,68,70,72,70,72,74];
const roi14Lo = [44,50,52,56,56,58,58,56,58,58,56,52,48,46,42,40,42,38,36,40,42,48,52,54,58,56,58,60,58,58,62];
const roi14Mid = [54,52,62,58,67,59,68,58,68,61,66,54,59,48,53,44,53,41,49,44,53,50,63,57,69,59,69,62,69,62,73];
const roi102Mean = [44,59,65,64,62,65,68,62,64,62,66,49,44,42,41,39,45,39,42,44,35,48,54,62,59,58,59,56,61,59,65];
const roi102Hi = [50,72,76,76,74,80,86,76,78,76,82,62,56,56,54,52,60,52,56,58,48,62,70,76,76,74,78,74,80,76,88];
const roi102Lo = [24,46,50,48,48,50,52,48,50,48,50,36,30,28,26,24,30,26,28,30,24,34,40,46,44,42,44,42,46,46,48];
const roi102Mid = [40,66,58,71,56,72,62,69,58,69,60,56,38,49,35,46,39,46,36,51,30,55,48,69,53,65,53,63,55,66,60];

// panel order (row-major) with correlation values
const ROI_IDS = [
  169, 150, 51, 73, 16, 99, 26, 153,
  119, 27, 139, 12, 89, 175, 106, 28,
  133, 74, 118, 122, 129, 31, 166, 45,
  159, 161, 178, 65, 64, 110, 113, 63,
  148, 7, 81, 154, 85, 168, 124, 174,
  108, 141, 77, 19, 86, 131, 155, 70,
  164, 96, 97, 87, 5, 157, 34, 144,
  115, 147, 173, 47, 54, 114, 14, 102,
];
const R_VALUES = [
  0.84, 0.80, 0.74, 0.67, 0.63, 0.57, 0.54, 0.47,
  0.85, 0.80, 0.75, 0.68, 0.64, 0.58, 0.54, 0.48,
  0.85, 0.81, 0.76, 0.68, 0.64, 0.59, 0.55, 0.48,
  0.86, 0.81, 0.76, 0.69, 0.65, 0.60, 0.55, 0.50,
  0.86, 0.81, 0.76, 0.69, 0.66, 0.60, 0.56, 0.50,
  0.90, 0.82, 0.78, 0.70, 0.66, 0.61, 0.56, 0.51,
  0.90, 0.83, 0.79, 0.70, 0.66, 0.63, 0.56, 0.52,
  0.91, 0.84, 0.80, 0.73, 0.67, 0.63, 0.57, 0.53,
];
const MEANS = [
  roi169Mean, roi150Mean, roi51Mean, roi73Mean, roi16Mean, roi99Mean, roi26Mean, roi153Mean,
  roi119Mean, roi27Mean, roi139Mean, roi12Mean, roi89Mean, roi175Mean, roi106Mean, roi28Mean,
  roi133Mean, roi74Mean, roi118Mean, roi122Mean, roi129Mean, roi31Mean, roi166Mean, roi45Mean,
  roi159Mean, roi161Mean, roi178Mean, roi65Mean, roi64Mean, roi110Mean, roi113Mean, roi63Mean,
  roi148Mean, roi7Mean, roi81Mean, roi154Mean, roi85Mean, roi168Mean, roi124Mean, roi174Mean,
  roi108Mean, roi141Mean, roi77Mean, roi19Mean, roi86Mean, roi131Mean, roi155Mean, roi70Mean,
  roi164Mean, roi96Mean, roi97Mean, roi87Mean, roi5Mean, roi157Mean, roi34Mean, roi144Mean,
  roi115Mean, roi147Mean, roi173Mean, roi47Mean, roi54Mean, roi114Mean, roi14Mean, roi102Mean,
];
const TRIALS_HI = [
  roi169Hi, roi150Hi, roi51Hi, roi73Hi, roi16Hi, roi99Hi, roi26Hi, roi153Hi,
  roi119Hi, roi27Hi, roi139Hi, roi12Hi, roi89Hi, roi175Hi, roi106Hi, roi28Hi,
  roi133Hi, roi74Hi, roi118Hi, roi122Hi, roi129Hi, roi31Hi, roi166Hi, roi45Hi,
  roi159Hi, roi161Hi, roi178Hi, roi65Hi, roi64Hi, roi110Hi, roi113Hi, roi63Hi,
  roi148Hi, roi7Hi, roi81Hi, roi154Hi, roi85Hi, roi168Hi, roi124Hi, roi174Hi,
  roi108Hi, roi141Hi, roi77Hi, roi19Hi, roi86Hi, roi131Hi, roi155Hi, roi70Hi,
  roi164Hi, roi96Hi, roi97Hi, roi87Hi, roi5Hi, roi157Hi, roi34Hi, roi144Hi,
  roi115Hi, roi147Hi, roi173Hi, roi47Hi, roi54Hi, roi114Hi, roi14Hi, roi102Hi,
];
const TRIALS_LO = [
  roi169Lo, roi150Lo, roi51Lo, roi73Lo, roi16Lo, roi99Lo, roi26Lo, roi153Lo,
  roi119Lo, roi27Lo, roi139Lo, roi12Lo, roi89Lo, roi175Lo, roi106Lo, roi28Lo,
  roi133Lo, roi74Lo, roi118Lo, roi122Lo, roi129Lo, roi31Lo, roi166Lo, roi45Lo,
  roi159Lo, roi161Lo, roi178Lo, roi65Lo, roi64Lo, roi110Lo, roi113Lo, roi63Lo,
  roi148Lo, roi7Lo, roi81Lo, roi154Lo, roi85Lo, roi168Lo, roi124Lo, roi174Lo,
  roi108Lo, roi141Lo, roi77Lo, roi19Lo, roi86Lo, roi131Lo, roi155Lo, roi70Lo,
  roi164Lo, roi96Lo, roi97Lo, roi87Lo, roi5Lo, roi157Lo, roi34Lo, roi144Lo,
  roi115Lo, roi147Lo, roi173Lo, roi47Lo, roi54Lo, roi114Lo, roi14Lo, roi102Lo,
];
const TRIALS_MID = [
  roi169Mid, roi150Mid, roi51Mid, roi73Mid, roi16Mid, roi99Mid, roi26Mid, roi153Mid,
  roi119Mid, roi27Mid, roi139Mid, roi12Mid, roi89Mid, roi175Mid, roi106Mid, roi28Mid,
  roi133Mid, roi74Mid, roi118Mid, roi122Mid, roi129Mid, roi31Mid, roi166Mid, roi45Mid,
  roi159Mid, roi161Mid, roi178Mid, roi65Mid, roi64Mid, roi110Mid, roi113Mid, roi63Mid,
  roi148Mid, roi7Mid, roi81Mid, roi154Mid, roi85Mid, roi168Mid, roi124Mid, roi174Mid,
  roi108Mid, roi141Mid, roi77Mid, roi19Mid, roi86Mid, roi131Mid, roi155Mid, roi70Mid,
  roi164Mid, roi96Mid, roi97Mid, roi87Mid, roi5Mid, roi157Mid, roi34Mid, roi144Mid,
  roi115Mid, roi147Mid, roi173Mid, roi47Mid, roi54Mid, roi114Mid, roi14Mid, roi102Mid,
];

// ---- layout ----
const PAGE = 3958;
const NCOLS = 8;
const X0 = 197; // left edge of the first plot area
const Y0 = 242; // top edge of the first plot area
const PITCH = 445.3;
const PLOT_W = 358;
const PLOT_H = 401;
const PAD = 10;
const FONT = '"Liberation Sans", Arial, Helvetica, sans-serif';
const FONT_PX = 40;
const GRAY = "rgb(155,155,155)";
const MARK = "rgb(112,112,112)";

const toPoints = (vals: number[]) =>
  vals.slice(0, TIME.length).map((v, i) => ({ x: TIME[i], y: v }));

const markerPlugin = {
  id: "stimMarkers",
  beforeDatasetDraw(chart: any, args: any) {
    if (args.index !== chart.data.datasets.length - 1) return;
    const { ctx, chartArea, scales } = chart;
    const xs = scales.x;
    ctx.save();
    ctx.strokeStyle = MARK;
    ctx.lineWidth = 3;
    const xOn = xs.getPixelForValue(STIM_ON);
    ctx.beginPath();
    ctx.moveTo(xOn, chartArea.top);
    ctx.lineTo(xOn, chartArea.bottom);
    ctx.stroke();
    ctx.setLineDash([11, 5]);
    const xOff = xs.getPixelForValue(STIM_OFF);
    ctx.beginPath();
    ctx.moveTo(xOff, chartArea.top);
    ctx.lineTo(xOff, chartArea.bottom);
    ctx.stroke();
    ctx.restore();
  },
};

function Panel({ idx }: { idx: number }) {
  const ref = useRef<HTMLCanvasElement | null>(null);
  const row = Math.floor(idx / NCOLS);
  const col = idx % NCOLS;
  const left = X0 + PITCH * col - PAD;
  const top = Y0 + PITCH * row - PAD;

  useEffect(() => {
    if (!ref.current) return;
    const trial = (vals: number[]) => ({
      data: toPoints(vals),
      borderColor: GRAY,
      borderWidth: 2.3,
      pointRadius: 0,
      tension: 0,
      fill: false,
      order: 2,
    });
    const chart = new Chart(ref.current, {
      type: "line",
      data: {
        datasets: [
          trial(TRIALS_HI[idx]),
          trial(TRIALS_LO[idx]),
          trial(TRIALS_MID[idx]),
          {
            data: toPoints(MEANS[idx]),
            borderColor: "#000000",
            borderWidth: 7.5,
            pointRadius: 0,
            tension: 0,
            fill: false,
            order: 1,
            borderJoinStyle: "round",
          },
        ],
      },
      options: {
        animation: false,
        responsive: false,
        devicePixelRatio: 1,
        events: [],
        layout: { padding: PAD },
        plugins: {
          legend: { display: false },
          tooltip: { enabled: false },
          title: { display: false },
        },
        scales: {
          x: { type: "linear", min: -1, max: 5, display: false },
          y: { type: "linear", min: 0, max: 100, display: false },
        },
      } as any,
      plugins: [markerPlugin as any],
    });
    return () => chart.destroy();
  }, [idx]);

  const w = PLOT_W + 2 * PAD;
  const h = PLOT_H + 2 * PAD;
  return (
    <canvas
      ref={ref}
      width={w}
      height={h}
      style={{ position: "absolute", left, top, width: w, height: h, zIndex: 2 }}
    />
  );
}

function Labels({ idx }: { idx: number }) {
  const row = Math.floor(idx / NCOLS);
  const col = idx % NCOLS;
  const plotLeft = X0 + PITCH * col;
  const plotTop = Y0 + PITCH * row;
  const span = TIME[TIME.length - 1] - TIME[0];
  const xOn = plotLeft + (PLOT_W * (STIM_ON - TIME[0])) / span;
  const xOff = plotLeft + (PLOT_W * (STIM_OFF - TIME[0])) / span;
  const base: React.CSSProperties = {
    position: "absolute",
    fontFamily: FONT,
    fontSize: FONT_PX,
    lineHeight: `${FONT_PX}px`,
    color: "#000",
    whiteSpace: "nowrap",
    zIndex: 1,
  };
  return (
    <>
      <div style={{ ...base, left: xOn - 1, top: plotTop + 5 }}>{`ROI ${ROI_IDS[idx]}`}</div>
      <div style={{ ...base, left: xOff + 20, top: plotTop + PLOT_H - 44 }}>
        {`r = ${R_VALUES[idx].toFixed(2)}`}
      </div>
    </>
  );
}

export default function App() {
  return (
    <div
      style={{
        position: "absolute",
        left: 0,
        top: 0,
        width: PAGE,
        height: PAGE,
        background: "#ffffff",
        overflow: "hidden",
      }}
    >
      {ROI_IDS.map((_, i) => (
        <Labels key={`l${i}`} idx={i} />
      ))}
      {ROI_IDS.map((_, i) => (
        <Panel key={`p${i}`} idx={i} />
      ))}
    </div>
  );
}
